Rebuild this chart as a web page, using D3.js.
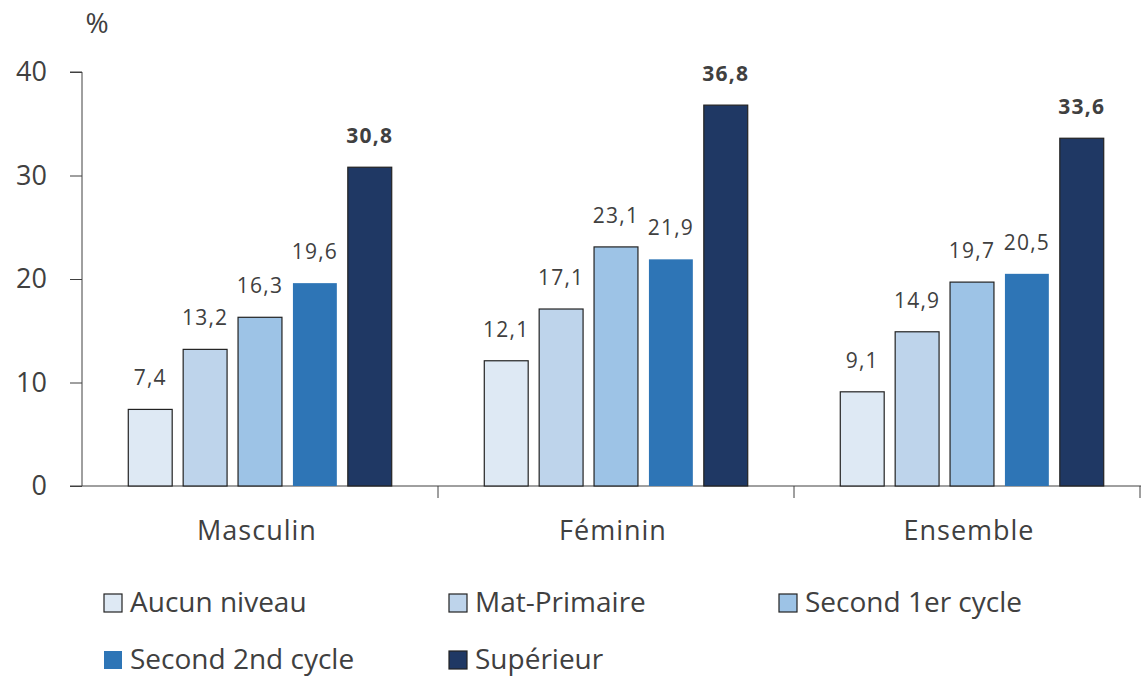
<!DOCTYPE html>
<html>
<head>
    <meta charset="utf-8">
    <script src="https://d3js.org/d3.v7.min.js"></script>
    <style>
        body { margin: 0; background: #fff; }
        text { font-family: "Open Sans", Lato, sans-serif; fill: #404040; }
    </style>
</head>
<body>
    <svg width="1141" height="677" id="mainsvg"></svg>
    <script>
        const categories = ['Masculin', 'Féminin', 'Ensemble'];
        const levels = ['Aucun niveau', 'Mat-Primaire', 'Second 1er cycle', 'Second 2nd cycle', 'Supérieur'];
        const aucun = [7.4, 12.1, 9.1];
        const matPrimaire = [13.2, 17.1, 14.9];
        const second1 = [16.3, 23.1, 19.7];
        const second2 = [19.6, 21.9, 20.5];
        const superieur = [30.8, 36.8, 33.6];
        const yTicks = [0, 10, 20, 30, 40];
        const colors = ['#dee9f4', '#bed4eb', '#9dc3e6', '#2e75b6', '#1f3864'];

        const series = [aucun, matPrimaire, second1, second2, superieur];

        const svg = d3.select('#mainsvg');
        const mLeft = 82, mRight = 1141, mTop = 72, mBottom = 486;

        const x0 = d3.scaleBand().domain(categories).range([mLeft, mRight + 9]);
        const x1 = d3.scaleBand().domain(levels).range([0, x0.bandwidth() * 0.74]).paddingInner(0.2);
        const y = d3.scaleLinear().domain([0, 40]).range([mBottom, mTop]);

        // y axis
        const yAxis = svg.append('g').attr('transform', `translate(${mLeft},0)`)
            .call(d3.axisLeft(y).tickValues(yTicks).tickSize(12).tickPadding(23));
        yAxis.select('.domain').attr('stroke', '#404040').attr('d', `M-12,${mTop}H0V${mBottom}`);
        yAxis.selectAll('.tick line').attr('stroke', '#404040');
        yAxis.selectAll('.tick text').style('font-size', '27px').attr('fill', '#404040');

        // x baseline + category ticks
        svg.append('line').attr('x1', 70).attr('x2', mRight).attr('y1', mBottom).attr('y2', mBottom)
            .attr('stroke', '#404040');
        categories.forEach((c, i) => {
            if (i === 0) return;
            const xx = x0(c);
            svg.append('line').attr('x1', xx).attr('x2', xx).attr('y1', mBottom).attr('y2', mBottom + 12)
                .attr('stroke', '#404040');
        });
        svg.append('line').attr('x1', mRight - 1).attr('x2', mRight - 1).attr('y1', mBottom).attr('y2', mBottom + 12)
            .attr('stroke', '#404040');

        svg.selectAll('.cat').data(categories).enter().append('text')
            .attr('x', d => x0(d) + x0.bandwidth() / 2 - 3)
            .attr('y', 540)
            .attr('text-anchor', 'middle')
            .style('font-size', '27px')
            .style('letter-spacing', '1px')
            .text(d => d);

        // bars
        const groupOffset = (x0.bandwidth() - x1.range()[1]) / 2;
        categories.forEach((c, ci) => {
            const g = svg.append('g').attr('transform', `translate(${x0(c) + groupOffset},0)`);
            levels.forEach((lv, li) => {
                const v = series[li][ci];
                g.append('rect')
                    .attr('x', x1(lv))
                    .attr('y', y(v))
                    .attr('width', x1.bandwidth())
                    .attr('height', mBottom - y(v))
                    .attr('fill', colors[li])
                    .attr('stroke', li === 3 ? 'none' : '#222')
                    .attr('stroke-width', 1.2);
                g.append('text')
                    .attr('x', x1(lv) + x1.bandwidth() / 2)
                    .attr('y', y(v) - 24)
                    .attr('text-anchor', 'middle')
                    .style('font-size', '21px')
                    .style('letter-spacing', '1.2px')
                    .style('font-weight', li === 4 ? 'bold' : 'normal')
                    .attr('fill', li === 4 ? '#404040' : '#595959')
                    .text(String(v).replace('.', ','));
            });
        });

        // % label
        svg.append('text').attr('x', 97).attr('y', 33).attr('text-anchor', 'middle')
            .style('font-size', '28px').text('%');

        // legend
        const legendPos = [[104, 612], [449, 612], [779, 612], [104, 669], [449, 669]];
        levels.forEach((lv, i) => {
            const [lx, ly] = legendPos[i];
            svg.append('rect').attr('x', lx).attr('y', ly - 18).attr('width', 18).attr('height', 18)
                .attr('fill', colors[i]).attr('stroke', i === 3 ? 'none' : '#222').attr('stroke-width', 1.2);
            svg.append('text').attr('x', lx + 26).attr('y', ly)
                .style('font-size', '28px').text(lv);
        });
    </script>
</body>
</html>
